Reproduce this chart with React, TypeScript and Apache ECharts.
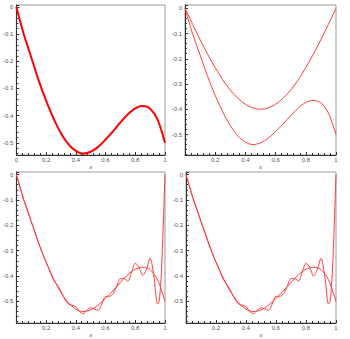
import React, { useEffect, useRef } from "react";
import * as echarts from "echarts";

// function f(x)
const fX = [0, 0.05, 0.1, 0.15, 0.2, 0.25, 0.3, 0.35, 0.4, 0.45, 0.5, 0.55, 0.6, 0.65, 0.7, 0.75, 0.8, 0.85, 0.9, 0.95, 1];
const fY = [0, -0.1, -0.185, -0.27, -0.345, -0.41, -0.465, -0.505, -0.53, -0.54, -0.533, -0.515, -0.488, -0.458, -0.425, -0.395, -0.373, -0.365, -0.375, -0.415, -0.5];

// first sine term (panel 2)
const sineX = [0, 0.05, 0.1, 0.15, 0.2, 0.25, 0.3, 0.35, 0.4, 0.45, 0.5, 0.55, 0.6, 0.65, 0.7, 0.75, 0.8, 0.85, 0.9, 0.95, 1];
const sineY = [0, -0.063, -0.124, -0.182, -0.235, -0.283, -0.324, -0.356, -0.38, -0.395, -0.4, -0.395, -0.38, -0.356, -0.324, -0.283, -0.235, -0.182, -0.124, -0.063, 0];

// partial sums (panels 3 and 4)
const sumX = [0, 0.025, 0.05, 0.075, 0.1, 0.125, 0.15, 0.175, 0.2, 0.225, 0.25, 0.275, 0.3, 0.325, 0.35, 0.375, 0.4, 0.425, 0.45, 0.475, 0.5, 0.525, 0.55, 0.575, 0.6, 0.625, 0.65, 0.675, 0.7, 0.725, 0.75, 0.775, 0.8, 0.825, 0.85, 0.875, 0.9, 0.925, 0.95, 0.96, 0.97, 0.98, 0.99, 1];
const sumAY = [0, -0.05, -0.1, -0.14, -0.185, -0.225, -0.27, -0.31, -0.345, -0.38, -0.415, -0.435, -0.46, -0.49, -0.51, -0.515, -0.52, -0.54, -0.548, -0.535, -0.525, -0.53, -0.535, -0.51, -0.48, -0.48, -0.47, -0.44, -0.41, -0.41, -0.42, -0.385, -0.35, -0.365, -0.397, -0.375, -0.33, -0.4, -0.51, -0.5, -0.44, -0.33, -0.17, 0];
const sumBY = [0, -0.05, -0.1, -0.14, -0.185, -0.225, -0.27, -0.31, -0.345, -0.38, -0.415, -0.435, -0.46, -0.49, -0.51, -0.515, -0.52, -0.54, -0.548, -0.535, -0.525, -0.53, -0.535, -0.51, -0.48, -0.48, -0.47, -0.44, -0.41, -0.41, -0.42, -0.385, -0.35, -0.365, -0.4, -0.375, -0.33, -0.4, -0.51, -0.5, -0.44, -0.33, -0.17, 0];

const yMins = [-0.545, -0.581, -0.585, -0.585];
const yMaxs = [0.0074, 0.013, 0.01, 0.01];

const pairs = (xs: number[], ys: number[]) => xs.map((x, i) => [x, ys[i]]);

export default function App() {
  const ref = useRef<HTMLDivElement>(null);
  useEffect(() => {
    if (!ref.current) return;
    const chart = echarts.init(ref.current, undefined, { renderer: "svg" });
    const grids = [
      { left: 15, top: 5, width: 150, height: 150 },
      { left: 185, top: 5, width: 151, height: 150 },
      { left: 15, top: 172, width: 150, height: 151 },
      { left: 186, top: 172, width: 150, height: 151 },
    ].map((g) => ({ ...g, show: true, borderColor: "#9a9a9a", borderWidth: 1, backgroundColor: "transparent" }));
    const labelFont = { fontSize: 6, color: "#555", fontFamily: "Liberation Sans, Arial, sans-serif" };
    const xAxes = grids.map((_, i) => ({
      type: "value",
      gridIndex: i,
      min: 0,
      max: 1,
      interval: 0.2,
      name: "x",
      nameLocation: "middle",
      nameGap: 9,
      nameTextStyle: { ...labelFont },
      axisLine: { show: true, onZero: false, lineStyle: { color: "#333", width: 1 } },
      axisTick: { show: true, inside: true, length: 3, lineStyle: { color: "#333" } },
      minorTick: { show: true, splitNumber: 5, length: 2, lineStyle: { color: "#333" } },
      splitLine: { show: false },
      axisLabel: { ...labelFont, margin: 2, showMinLabel: i === 0 },
    }));
    const yAxes = grids.map((_, i) => ({
      type: "value",
      gridIndex: i,
      min: yMins[i],
      max: yMaxs[i],
      splitNumber: 5,
      axisLine: { show: true, onZero: false, lineStyle: { color: "#333", width: 1 } },
      axisTick: { show: true, inside: true, length: 3, lineStyle: { color: "#333" } },
      minorTick: { show: true, splitNumber: 5, length: 2, lineStyle: { color: "#333" } },
      splitLine: { show: false },
      axisLabel: { ...labelFont, margin: 3, showMinLabel: false, showMaxLabel: false },
    }));
    const line = (i: number, data: number[][], width: number, color: string) => ({
      type: "line",
      xAxisIndex: i,
      yAxisIndex: i,
      data,
      smooth: 0.3,
      showSymbol: false,
      lineStyle: { color, width },
      silent: true,
    });
    const thin = "#ff3b3b";
    chart.setOption({
      animation: false,
      backgroundColor: "#ffffff",
      grid: grids,
      xAxis: xAxes,
      yAxis: yAxes,
      series: [
        line(0, pairs(fX, fY), 2, "#ff0000"),
        line(1, pairs(fX, fY), 1, thin),
        line(1, pairs(sineX, sineY), 1, thin),
        line(2, pairs(fX, fY), 1, thin),
        line(2, pairs(sumX, sumAY), 1, thin),
        line(3, pairs(fX, fY), 1, thin),
        line(3, pairs(sumX, sumBY), 1, thin),
      ],
    });
    return () => chart.dispose();
  }, []);
  return <div ref={ref} style={{ position: "fixed", left: 0, top: 0, width: 350, height: 339, background: "#fff" }} />;
}
